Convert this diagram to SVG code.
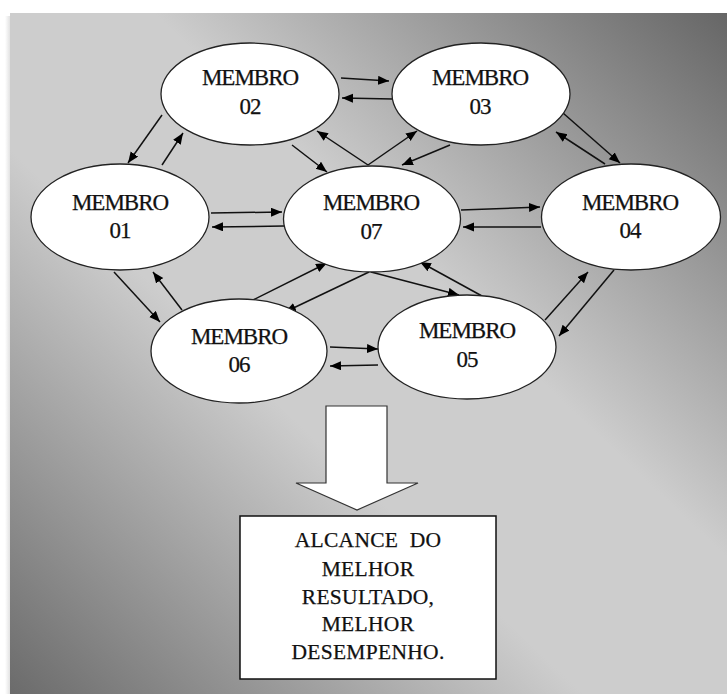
<svg xmlns="http://www.w3.org/2000/svg" width="727" height="694" viewBox="0 0 727 694">
  <defs>
    <linearGradient id="bg" x1="1" y1="0" x2="0" y2="1">
      <stop offset="0" stop-color="#666666"/>
      <stop offset="0.4" stop-color="#cdcdcd"/>
      <stop offset="0.6" stop-color="#cdcdcd"/>
      <stop offset="1" stop-color="#6b6b6b"/>
    </linearGradient>
    <linearGradient id="shadow" x1="0" y1="0" x2="1" y2="0">
      <stop offset="0" stop-color="#ffffff"/>
      <stop offset="1" stop-color="#e2e2e2"/>
    </linearGradient>
    <marker id="ah" markerUnits="userSpaceOnUse" markerWidth="12" markerHeight="10" refX="11" refY="4.5" orient="auto">
      <path d="M0,0 L11,4.5 L0,9 z" fill="#000"/>
    </marker>
    <style>
      .node ellipse { fill: #ffffff; stroke: #222; stroke-width: 1.3; }
      text { font-family: 'Liberation Serif', 'Times New Roman', serif; fill: #111; stroke: #111; stroke-width: 0.25; text-anchor: middle; }
      .lbl { font-size: 23px; letter-spacing: -1px; }
      .box { font-size: 21.5px; letter-spacing: 0.3px; white-space: pre; }
      #connectors line { stroke: #111; stroke-width: 1.5; fill: none; marker-end: url(#ah); }
    </style>
  </defs>

  <rect x="0" y="0" width="727" height="694" fill="#ffffff"/>
  <rect x="5" y="16" width="5" height="678" fill="url(#shadow)"/>
  <rect x="10" y="13" width="717" height="681" fill="url(#bg)"/>

  <g id="connectors">
    <line x1="341" y1="78" x2="389" y2="81"/>
    <line x1="393" y1="99" x2="342" y2="98"/>
    <line x1="162" y1="115" x2="128" y2="163"/>
    <line x1="162" y1="165" x2="183" y2="133"/>
    <line x1="292" y1="145" x2="327" y2="172"/>
    <line x1="368" y1="165" x2="317" y2="131"/>
    <line x1="368" y1="165" x2="417" y2="131"/>
    <line x1="450" y1="145" x2="402" y2="165"/>
    <line x1="563" y1="113" x2="620" y2="163"/>
    <line x1="605" y1="164" x2="556" y2="132"/>
    <line x1="211" y1="213" x2="282" y2="212"/>
    <line x1="284" y1="226" x2="212" y2="227"/>
    <line x1="461" y1="210" x2="540" y2="207"/>
    <line x1="541" y1="227" x2="463" y2="227"/>
    <line x1="114" y1="272" x2="160" y2="322"/>
    <line x1="182" y1="310" x2="153" y2="272"/>
    <line x1="253" y1="300" x2="327" y2="263"/>
    <line x1="369" y1="272" x2="285" y2="312"/>
    <line x1="371" y1="272" x2="459" y2="295"/>
    <line x1="482" y1="296" x2="420" y2="262"/>
    <line x1="545" y1="320" x2="588" y2="272"/>
    <line x1="614" y1="270" x2="559" y2="336"/>
    <line x1="330" y1="347" x2="378" y2="349"/>
    <line x1="378" y1="365" x2="330" y2="366"/>
  </g>

  <g id="node-02" class="node">
    <ellipse cx="250" cy="94" rx="89" ry="51"/>
    <text class="lbl" x="250" y="85">MEMBRO</text>
    <text class="lbl" x="250" y="114">02</text>
  </g>
  <g id="node-03" class="node">
    <ellipse cx="481" cy="94" rx="89" ry="51"/>
    <text class="lbl" x="480" y="85">MEMBRO</text>
    <text class="lbl" x="480" y="114">03</text>
  </g>
  <g id="node-01" class="node">
    <ellipse cx="120" cy="217" rx="89" ry="53"/>
    <text class="lbl" x="120" y="210">MEMBRO</text>
    <text class="lbl" x="120" y="238">01</text>
  </g>
  <g id="node-07" class="node">
    <ellipse cx="372" cy="219" rx="88.5" ry="53"/>
    <text class="lbl" x="371" y="210">MEMBRO</text>
    <text class="lbl" x="371" y="239">07</text>
  </g>
  <g id="node-04" class="node">
    <ellipse cx="631" cy="217" rx="89.5" ry="53"/>
    <text class="lbl" x="630" y="210">MEMBRO</text>
    <text class="lbl" x="630" y="238">04</text>
  </g>
  <g id="node-06" class="node">
    <ellipse cx="239" cy="351" rx="88" ry="52"/>
    <text class="lbl" x="239" y="344">MEMBRO</text>
    <text class="lbl" x="239" y="372">06</text>
  </g>
  <g id="node-05" class="node">
    <ellipse cx="467" cy="347" rx="89" ry="52"/>
    <text class="lbl" x="467" y="338">MEMBRO</text>
    <text class="lbl" x="467" y="367">05</text>
  </g>

  <g id="big-arrow">
    <polygon points="326,406 387,406 387,483 418,483 357,510 296,483 326,483" fill="#ffffff" stroke="#333" stroke-width="1.2"/>
  </g>

  <g id="result-box">
    <rect x="240" y="516" width="256" height="163" fill="#ffffff" stroke="#111" stroke-width="1.5"/>
    <text class="box" x="368" y="547">ALCANCE  DO</text>
    <text class="box" x="368" y="576">MELHOR</text>
    <text class="box" x="368" y="604">RESULTADO,</text>
    <text class="box" x="368" y="631">MELHOR</text>
    <text class="box" x="368" y="659">DESEMPENHO.</text>
  </g>
</svg>
